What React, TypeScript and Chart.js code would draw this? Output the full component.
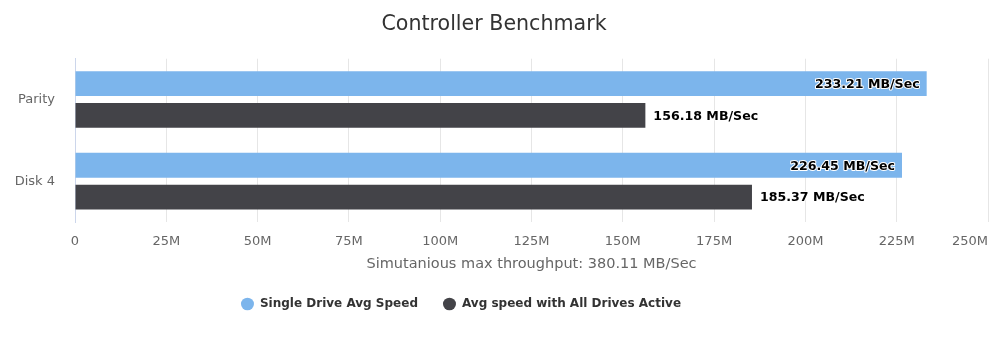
import { useEffect, useRef } from 'react';
import { Chart, registerables } from 'chart.js';

Chart.register(...registerables);

const categories = ['Parity', 'Disk 4'];
const seriesNames = ['Single Drive Avg Speed', 'Avg speed with All Drives Active'];
const singleDriveSpeed = [233.21, 226.45];
const allDrivesSpeed = [156.18, 185.37];
const throughputTotal = 380.11;
const axisMax = 250;
const axisStep = 25;

const FONT = '"DejaVu Sans", sans-serif';

// Draws "xxx.xx MB/Sec" at the end of every bar, inside when it would overflow the plot.
const valueLabels = {
  id: 'valueLabels',
  afterDatasetsDraw(chart: any) {
    const { ctx, chartArea } = chart;
    ctx.save();
    ctx.font = `bold 12.6px ${FONT}`;
    ctx.textBaseline = 'middle';
    ctx.lineJoin = 'round';
    chart.data.datasets.forEach((ds: any, di: number) => {
      const meta = chart.getDatasetMeta(di);
      meta.data.forEach((bar: any, i: number) => {
        const text = `${Number(ds.data[i]).toFixed(2)} MB/Sec`;
        const w = ctx.measureText(text).width;
        let x = bar.x + 8;
        ctx.textAlign = 'left';
        if (x + w > chartArea.right) {
          x = bar.x - 7;
          ctx.textAlign = 'right';
        }
        ctx.strokeStyle = '#ffffff';
        ctx.lineWidth = 2;
        ctx.strokeText(text, x, bar.y + 1);
        ctx.fillStyle = '#000000';
        ctx.fillText(text, x, bar.y + 1);
      });
    });
    ctx.restore();
  },
};

// Keeps the last value-axis label inside the plot's right edge and nudges the legend row.
const edgeTweaks = {
  id: 'edgeTweaks',
  afterLayout(chart: any) {
    const legend = chart.legend;
    if (legend) {
      legend.left -= 33;
      legend.right -= 33;
    }
  },
  beforeDraw(chart: any) {
    const xScale = chart.scales.x;
    const items = xScale.getLabelItems(chart.chartArea);
    const last = items[items.length - 1];
    if (last) {
      last.options.textAlign = 'right';
      last.options.translation[0] = xScale.right;
    }
  },
};

export default function App() {
  const canvasRef = useRef<HTMLCanvasElement | null>(null);

  useEffect(() => {
    const canvas = canvasRef.current;
    if (!canvas) return;
    const chart = new Chart(canvas, {
      type: 'bar',
      data: {
        labels: categories,
        datasets: [
          {
            label: seriesNames[0],
            data: singleDriveSpeed,
            backgroundColor: '#7cb5ec',
            borderWidth: 0,
            categoryPercentage: 0.778,
            barPercentage: 0.783,
          },
          {
            label: seriesNames[1],
            data: allDrivesSpeed,
            backgroundColor: '#434348',
            borderWidth: 0,
            categoryPercentage: 0.778,
            barPercentage: 0.783,
          },
        ],
      },
      options: {
        indexAxis: 'y',
        responsive: false,
        animation: false,
        devicePixelRatio: 1,
        layout: { padding: { top: 0, right: 12, bottom: 18, left: 0 } },
        scales: {
          x: {
            type: 'linear',
            min: 0,
            max: axisMax,
            ticks: {
              stepSize: axisStep,
              color: '#666666',
              font: { family: FONT, size: 13 },
              padding: 12,
              callback: (v: any) => (Number(v) === 0 ? '0' : `${v}M`),
            },
            grid: { color: '#e6e6e6', drawTicks: false },
            border: { display: false },
            title: {
              display: true,
              text: `Simutanious max throughput: ${throughputTotal.toFixed(2)} MB/Sec`,
              color: '#666666',
              font: { family: FONT, size: 14.5 },
              padding: { top: 6, bottom: 0 },
            },
            afterFit: (scale: any) => {
              scale.paddingRight = 0;
              scale.height -= 12;
            },
          },
          y: {
            type: 'category',
            grid: { display: false, drawTicks: false },
            border: { display: true, color: '#ccd6eb', width: 1 },
            ticks: {
              color: '#666666',
              font: { family: FONT, size: 13 },
              padding: 20,
            },
            afterFit: (scale: any) => {
              scale.width = 75;
            },
          },
        },
        plugins: {
          title: {
            display: true,
            text: 'Controller Benchmark',
            color: '#333333',
            font: { family: FONT, size: 20.6, weight: 'normal' },
            padding: { top: 12, bottom: 22 },
          },
          legend: {
            position: 'bottom',
            labels: {
              usePointStyle: true,
              pointStyle: 'circle',
              boxHeight: 9,
              pointStyleWidth: 13,
              color: '#333333',
              font: { family: FONT, size: 12, weight: 'bold' },
              padding: 25,
            },
          },
          tooltip: { enabled: false },
        },
      },
      plugins: [valueLabels, edgeTweaks],
    });
    return () => chart.destroy();
  }, []);

  return (
    <div style={{ position: 'absolute', left: 0, top: 0, width: 1000, height: 338, background: '#ffffff' }}>
      <canvas ref={canvasRef} width={1000} height={338} />
    </div>
  );
}
